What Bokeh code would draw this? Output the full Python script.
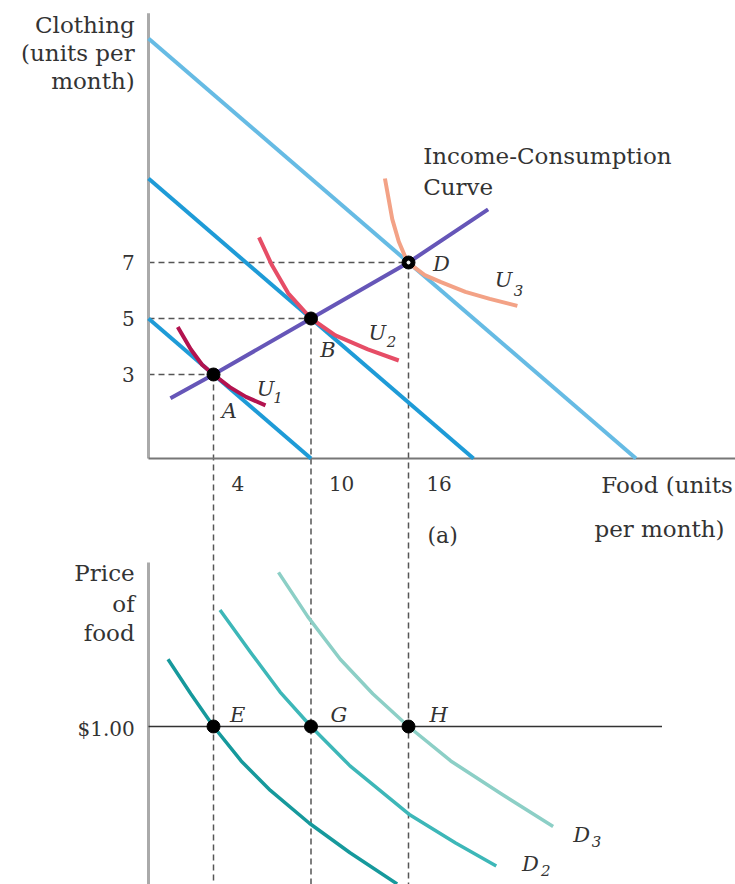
from bokeh.plotting import figure
from bokeh.models import Range1d
from bokeh.core.properties import value
from bokeh.embed import file_html
from bokeh.resources import INLINE

# ---------------- data ----------------
# Panel (a): budget lines (clothing intercept, food intercept)
budget_clothing_max = [5, 10, 15]
budget_food_max = [10, 20, 30]

# optimum bundles
point_names = ["A", "B", "D"]
point_food = [4, 10, 16]
point_clothing = [3, 5, 7]

# income-consumption curve
icc_food = [1.35, 4, 10, 16, 20.9]
icc_clothing = [2.15, 3, 5, 7, 8.9]

# indifference curves
u1_food = [1.8, 2.6, 3.3, 4, 5, 6, 7.2]
u1_clothing = [4.7, 3.9, 3.35, 3, 2.55, 2.2, 1.9]
u2_food = [6.8, 7.6, 8.6, 10, 11.5, 13.5, 15.4]
u2_clothing = [7.9, 6.9, 5.9, 5, 4.4, 3.9, 3.5]
u3_food = [14.55, 15.0, 15.4, 15.8, 16.3, 17.0, 18.0, 19.5, 21.0, 22.7]
u3_clothing = [10.0, 8.55, 7.75, 7.2, 6.85, 6.55, 6.3, 5.95, 5.7, 5.45]

clothing_ticks = [3, 5, 7]
food_ticks = [4, 10, 16]

# Panel (b): demand curves
price_level = 1.00
demand_point_names = ["E", "G", "H"]
demand_point_food = [4, 10, 16]
d1_food = [1.2, 2.6, 4, 5.7, 7.5, 9.9, 12.4, 15.3]
d1_price = [1.41, 1.2, 1.0, 0.79, 0.61, 0.41, 0.23, 0.04]
d2_food = [4.4, 6.3, 8.1, 10, 12.4, 16.1, 18.9, 21.4]
d2_price = [1.71, 1.45, 1.21, 1.0, 0.76, 0.46, 0.29, 0.15]
d3_food = [8.0, 9.8, 11.8, 13.8, 16, 18.6, 21.7, 24.9]
d3_price = [1.94, 1.67, 1.41, 1.20, 1.0, 0.79, 0.59, 0.39]

# ---------------- layout ----------------
W, H = 735, 884
FOOD_PX, FOOD0_PX = 16.25, 148      # px per food unit, frame x of food 0
CLOTH_PX, CLOTH0_PX = 28, 458       # px per clothing unit, frame y of clothing 0
PRICE_PX, PRICE1_PX = 164, 726      # px per dollar, frame y of $1.00

x_start, x_end = -FOOD0_PX / FOOD_PX, (W - FOOD0_PX) / FOOD_PX
y_start, y_end = (CLOTH0_PX - H) / CLOTH_PX, CLOTH0_PX / CLOTH_PX
p_start, p_end = 1 - (H - PRICE1_PX) / PRICE_PX, 1 + PRICE1_PX / PRICE_PX

p = figure(width=W, height=H, x_range=Range1d(x_start, x_end),
           y_range=Range1d(y_start, y_end), x_axis_type=None, y_axis_type=None,
           output_backend="svg", toolbar_location=None, min_border=0,
           outline_line_color=None)
p.extra_y_ranges = {"price": Range1d(p_start, p_end)}

FONT = value("DejaVu Serif")
TXT = "#333333"
DASH = dict(line_color="#555555", line_width=1.5, line_dash="6 4")

# dashed guides
p.segment(x0=point_food, y0=point_clothing, x1=point_food,
          y1=[y_start] * len(point_food), **DASH)
p.segment(x0=[0] * len(point_food), y0=point_clothing, x1=point_food,
          y1=point_clothing, **DASH)

# axes (panel a)
p.line([0, 0], [0, 15.9], line_color="#aaaaaa", line_width=3)
p.line([0, x_end], [0, 0], line_color="#777777", line_width=2)
# axes (panel b)
p.line([0, 0], [0, 2.0], line_color="#aaaaaa", line_width=3, y_range_name="price")
p.line([0, 31.6], [price_level, price_level], line_color="#333333",
       line_width=1.5, y_range_name="price")

# budget lines
budget_colors = ["#1e9bd7", "#1e9bd7", "#66bbe4"]
for cm, fm, col in zip(budget_clothing_max, budget_food_max, budget_colors):
    p.line([0, fm], [cm, 0], line_color=col, line_width=4)

# income-consumption curve
p.line(icc_food, icc_clothing, line_color="#6656b8", line_width=4)

# indifference curves
p.line(u1_food, u1_clothing, line_color="#b3134f", line_width=4, line_join="round")
p.line(u2_food, u2_clothing, line_color="#e64d66", line_width=4, line_join="round")
p.line(u3_food, u3_clothing, line_color="#f3a286", line_width=4, line_join="round")

# demand curves
p.line(d1_food, d1_price, line_color="#16999c", line_width=3.5, line_join="round",
       y_range_name="price")
p.line(d2_food, d2_price, line_color="#3db7b8", line_width=3.5, line_join="round",
       y_range_name="price")
p.line(d3_food, d3_price, line_color="#8ccfc6", line_width=3.5, line_join="round",
       y_range_name="price")

# points
p.scatter(point_food, point_clothing, size=13, color="black")
p.scatter([point_food[2]], [point_clothing[2]], size=3, color="white")
p.scatter(demand_point_food, [price_level] * 3, size=13, color="black",
          y_range_name="price")

def txt(x, y, s, size, align="left", style="normal", yr="default"):
    p.text(x=x, y=y, text=s, text_font=FONT, text_font_size=f"{size}px",
           text_align=align, text_baseline="middle", text_color=TXT,
           text_font_style=style, y_range_name=yr)

# axis titles
txt([-0.85] * 3, [15.5, 14.5, 13.5], ["Clothing", "(units per", "month)"], 23, "right")
txt([-0.85] * 3, clothing_ticks, [str(v) for v in clothing_ticks], 20, "right")
txt([f + 1.1 for f in food_ticks], [-0.9] * 3, [str(v) for v in food_ticks], 20)
txt([35.95, 35.45], [-0.93, -2.5], ["Food (units", "per month)"], 23, "right")
txt([17.17], [-2.75], ["(a)"], 22)
txt([16.9, 16.9], [10.8, 9.7], ["Income-Consumption", "Curve"], 23)

# point labels
txt([4.98, 11.05, 18.03], [1.71, 3.86, 6.93], point_names, 21, "center", "italic")
txt([7.2, 14.09, 21.85], [2.5, 4.5, 6.36], ["U", "U", "U"], 21, "center", "italic")
txt([7.97, 14.95, 22.77], [2.18, 4.18, 6.0], ["1", "2", "3"], 15, "center", "italic")

# panel b texts
txt([-0.85] * 3, [1.933, 1.75, 1.573], ["Price", "of", "food"], 23, "right", yr="price")
txt([-0.85], [0.985], ["$1.00"], 20, "right", yr="price")
txt([5.48, 11.72, 17.85], [1.073] * 3, demand_point_names, 21, "center", "italic", "price")
txt([26.65, 23.5], [0.341, 0.16], ["D", "D"], 21, "center", "italic", "price")
txt([27.57, 24.45], [0.299, 0.12], ["3", "2"], 15, "center", "italic", "price")

open("out.html", "w").write(file_html(p, INLINE))
